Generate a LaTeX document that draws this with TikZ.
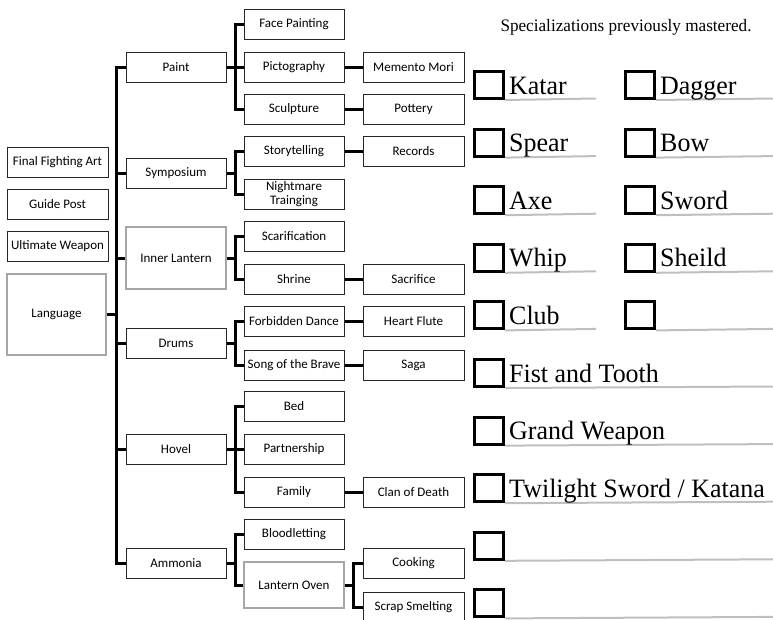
\documentclass[tikz,border=0pt]{standalone}
\usepackage{fontspec}
\setmainfont{Carlito}
\newfontfamily\goudy[FakeStretch=0.98]{Liberation Serif}
\begin{document}
\begin{tikzpicture}[x=1pt,y=-1pt,
  tbox/.style={draw=black!85,line width=1pt,minimum width=100pt,minimum height=30pt,inner sep=0pt,align=center,font=\fontsize{13}{14}\selectfont},
  gbox/.style={tbox,draw=black!35,line width=1.3pt},
  wire/.style={line width=3pt},
  chk/.style={draw,line width=3pt,minimum width=29pt,minimum height=27pt,inner sep=0pt},
  uline/.style={draw=black!25,line width=2pt},
  wlabel/.style={anchor=base west,inner sep=0pt,font=\goudy\fontsize{26.5}{30}\selectfont}]

\useasboundingbox (0,0) rectangle (773,619);

\coordinate (trunk) at (116,0);
\coordinate (b1) at (235,0);
\coordinate (b3) at (353,0);

% left column
\node[tbox,minimum width=101pt] (fin) at (57.5,162) {Final Fighting Art};
\node[tbox,minimum width=101pt] (guide) at (57.5,204) {Guide Post};
\node[tbox,minimum width=101pt] (ult) at (57.5,246.5) {Ultimate Weapon};
\node[gbox,minimum width=99pt,minimum height=81pt] (lang) at (56.5,314.5) {Language};

% first level
\node[tbox] (paint) at (176,67) {Paint};
\node[tbox] (symp) at (176,173) {Symposium};
\node[gbox,minimum height=62pt] (inner) at (176,258) {Inner Lantern};
\node[tbox] (drums) at (176,343.5) {Drums};
\node[tbox] (hovel) at (176,449) {Hovel};
\node[tbox] (ammonia) at (176,563.5) {Ammonia};

% second level
\node[tbox] (face) at (294,24) {Face Painting};
\node[tbox] (picto) at (294,67) {Pictography};
\node[tbox] (sculpt) at (294,109) {Sculpture};
\node[tbox] (story) at (294,151.5) {Storytelling};
\node[tbox] (night) at (294,194) {Nightmare\\Trainging};
\node[tbox] (scar) at (294,236.5) {Scarification};
\node[tbox] (shrine) at (294,279.5) {Shrine};
\node[tbox] (forb) at (294,321.5) {Forbidden Dance};
\node[tbox] (song) at (294,365) {Song of the Brave};
\node[tbox] (bed) at (294,406.5) {Bed};
\node[tbox] (partner) at (294,449) {Partnership};
\node[tbox] (family) at (294,492.5) {Family};
\node[tbox] (blood) at (294,534.5) {Bloodletting};
\node[gbox,minimum height=46pt] (oven) at (294,585) {Lantern Oven};

% third level
\node[tbox,minimum width=101pt] (memento) at (413.5,67) {Memento Mori};
\node[tbox,minimum width=101pt] (pottery) at (413.5,109) {Pottery};
\node[tbox,minimum width=101pt] (records) at (413.5,151.5) {Records};
\node[tbox,minimum width=101pt] (sacrifice) at (413.5,279.5) {Sacrifice};
\node[tbox,minimum width=101pt] (heart) at (413.5,321.5) {Heart Flute};
\node[tbox,minimum width=101pt] (saga) at (413.5,365) {Saga};
\node[tbox,minimum width=101pt] (clan) at (413.5,492.5) {Clan of Death};
\node[tbox,minimum width=101pt] (cooking) at (413.5,563.5) {Cooking};
\node[tbox,minimum width=101pt] (scrap) at (413.5,607) {Scrap Smelting};

% trunk
\draw[wire] (paint.west) -- (paint.west -| trunk) |- (ammonia.west);
\foreach \n in {symp,inner,drums,hovel}
  \draw[wire] (\n.west) -- (\n.west -| trunk);
\draw[wire] (lang.east) -- (lang.east -| trunk);

% branches to second level
\draw[wire] (face.west) -- (face.west -| b1) |- (sculpt.west);
\draw[wire] (paint.east) -- (picto.west);
\draw[wire] (story.west) -- (story.west -| b1) |- (night.west);
\draw[wire] (symp.east) -- (symp.east -| b1);
\draw[wire] (scar.west) -- (scar.west -| b1) |- (shrine.west);
\draw[wire] (inner.east) -- (inner.east -| b1);
\draw[wire] (forb.west) -- (forb.west -| b1) |- (song.west);
\draw[wire] (drums.east) -- (drums.east -| b1);
\draw[wire] (bed.west) -- (bed.west -| b1) |- (family.west);
\draw[wire] (hovel.east) -- (partner.west);
\draw[wire] (blood.west) -- (blood.west -| b1) |- (oven.west);
\draw[wire] (ammonia.east) -- (ammonia.east -| b1);

% third level
\draw[wire] (picto) -- (memento);
\draw[wire] (sculpt) -- (pottery);
\draw[wire] (story) -- (records);
\draw[wire] (shrine) -- (sacrifice);
\draw[wire] (forb) -- (heart);
\draw[wire] (song) -- (saga);
\draw[wire] (family) -- (clan);
\draw[wire] (cooking.west) -- (cooking.west -| b3) |- (scrap.west);
\draw[wire] (oven.east) -- (oven.east -| b3);

% specializations
\node[anchor=base,inner sep=0pt,font=\goudy\fontsize{17.5}{20}\selectfont] (title) at (626,31) {Specializations previously mastered.};

\foreach \lab [count=\i from 0] in {Katar,Spear,Axe,Whip,Club,{Fist and Tooth},{Grand Weapon},{Twilight Sword / Katana},{},{}}{
  \pgfmathsetmacro\xend{\i<5 ? 596 : 773}
  \node[chk] (ca\i) at (489,{85+57.6*\i}) {};
  \coordinate (ea\i) at (\xend,{98.5+57.6*\i});
  \draw[uline] (ca\i.south east) -- (ea\i);
  \node[wlabel] (la\i) at (509,{94+57.6*\i}) {\lab};
}
\foreach \lab [count=\i from 0] in {Dagger,Bow,Sword,Sheild,{}}{
  \node[chk] (cb\i) at (640,{85+57.6*\i}) {};
  \coordinate (eb\i) at (773,{98.5+57.6*\i});
  \draw[uline] (cb\i.south east) -- (eb\i);
  \node[wlabel] (lb\i) at (660,{94+57.6*\i}) {\lab};
}

\end{tikzpicture}
\end{document}
